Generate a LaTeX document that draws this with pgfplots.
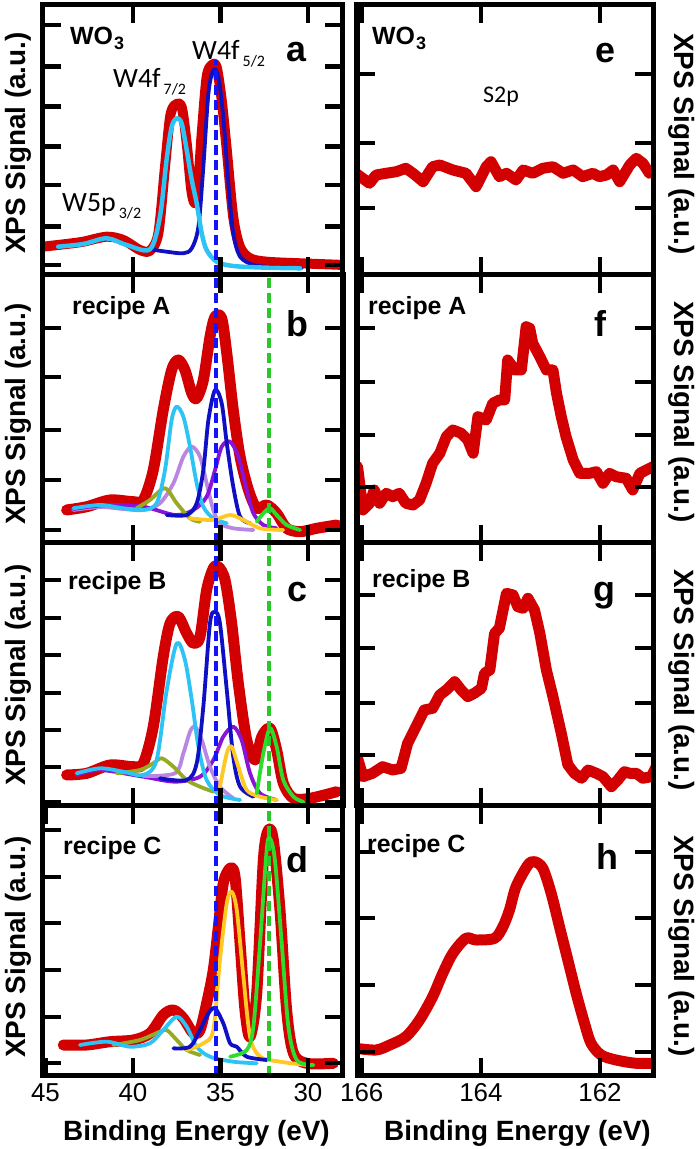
\documentclass[border=0pt]{standalone}
\usepackage{pgfplots}
\pgfplotsset{compat=1.18}
\usepackage{fontspec}
\setmainfont{Liberation Sans}
\newfontfamily\calfont{Carlito}
\definecolor{xred}{RGB}{210,0,0}
\definecolor{xcyan}{RGB}{45,195,245}
\definecolor{xblue}{RGB}{15,15,195}
\definecolor{xlav}{RGB}{185,135,225}
\definecolor{xpurp}{RGB}{135,20,215}
\definecolor{xolive}{RGB}{150,170,35}
\definecolor{xyel}{RGB}{255,200,35}
\definecolor{xgreen}{RGB}{45,220,45}
\definecolor{dblue}{RGB}{20,20,250}
\definecolor{dgreen}{RGB}{40,200,40}
\newcommand\lab{\fontsize{28}{30}\selectfont\bfseries}
\newcommand\letf{\fontsize{36}{36}\selectfont\bfseries}
\newcommand\recf{\fontsize{25}{28}\selectfont\bfseries}
\newcommand\peakf{\calfont\fontsize{28}{30}\selectfont}
\newcommand\subf{\fontsize{16}{16}\selectfont}
\newcommand\wothree{WO\hspace{1bp}\raisebox{-5bp}{\fontsize{18}{18}\selectfont 3}}
\pgfplotsset{
  panel/.style={scale only axis, anchor=south west, ymin=0, yticklabels={}, xticklabels={},
    tick align=inside, tick pos=both, major tick length=18bp,
    tick style={line width=4.5bp, black}, axis line style={line width=5bp},
    axis on top, clip=true,
    /pgf/number format/assume math mode=true,
    xticklabel style={font=\fontsize{26}{26}\selectfont, yshift=-4bp}},
  leftp/.style={panel, width=300bp, x dir=reverse, xmin=28, xmax=45.14, xtick={30,35,40}},
  rightp/.style={panel, width=296bp, x dir=reverse, xmin=161.11, xmax=166.08, xtick={162,164,166}},
  redl/.style={line width=11bp, color=xred, line cap=round, line join=round, mark=none},
  comp/.style={line width=3.8bp, mark=none, smooth, line cap=round, line join=round},
  bdash/.style={line width=4bp, color=dblue, dash pattern=on 10bp off 5bp, mark=none},
  gdash/.style={line width=4bp, color=dgreen, dash pattern=on 10bp off 5bp, mark=none},
}
\begin{document}
\begin{tikzpicture}
\path (0,0) rectangle (697bp,1149bp);

% ---------- panel a ----------
\begin{axis}[leftp, at={(43bp,874bp)}, height=270bp, ymax=270, ytick={10,48.3,90,128.3,168.3,208.3,250}]
\addplot[redl, smooth, line width=10bp] coordinates {(45.3,28) (43.8,31) (42.84,33.3) (41.5,38.3) (40.55,35) (39.6,25) (39.03,24.3) (38.55,41.7) (38.17,108) (37.88,158) (37.6,170) (37.22,168.3) (36.93,131.7) (36.64,81.7) (36.36,75) (36.07,141.7) (35.79,198) (35.5,210) (35.22,208) (34.93,175) (34.64,125) (34.27,58) (33.88,28) (33.31,16.7) (32.36,13.3) (30.45,11.7) (27.9,10)};
\addplot[comp, color=xblue] coordinates {(39.03,25.7) (38.08,23.3) (37.12,21.7) (36.64,26.7) (36.26,48.3) (35.98,108) (35.69,181.7) (35.4,205) (35.12,198) (34.84,158) (34.55,91.7) (34.27,41.7) (33.88,18.3) (33.12,10) (32.36,8.3) (30.36,6.7)};
\addplot[comp, color=xcyan, line width=4.5bp] coordinates {(44.27,28.3) (42.84,31) (41.5,36.7) (40.36,30) (39.03,25.7) (38.46,58) (38.08,115) (37.79,148) (37.5,156.7) (37.22,151.7) (36.93,125) (36.64,95) (36.36,71.7) (36.07,41.7) (35.79,25) (35.22,13.3) (34.27,9) (32.36,7.3) (30.45,6.7)};
\addplot[bdash] coordinates {(35.25,0) (35.25,215)};
\end{axis}

% ---------- panel b ----------
\begin{axis}[leftp, at={(43bp,606bp)}, height=268bp, ymax=268, ytick={13,63,113,166,215}]
\addplot[redl, smooth] coordinates {(43.79,33) (42.64,36.3) (41.31,43) (39.98,41.3) (39.41,43) (38.84,73) (38.27,133) (37.79,173) (37.41,183) (37.03,173) (36.64,149.7) (36.36,144.7) (35.98,163) (35.6,206) (35.31,226.3) (34.93,224.7) (34.64,189.7) (34.27,133) (33.88,86.3) (33.4,53) (32.93,34.7) (32.36,38) (31.79,29.7) (31.22,14.7) (30.45,11.3) (29.5,14.7) (28.36,18)};
\addplot[comp, color=xlav] coordinates {(43.41,33) (41.88,36) (40.55,34) (39.41,33) (38.46,39.7) (37.69,59.7) (37.12,86.3) (36.64,96.3) (36.17,86.3) (35.79,59.7) (35.41,33) (35.03,19.7) (34.27,14.7) (33.12,13)};
\addplot[comp, color=xpurp] coordinates {(43.41,34) (41.5,38) (39.41,36.3) (37.6,28) (36.55,33) (35.79,46.3) (35.31,73) (34.93,96.3) (34.45,101.3) (33.98,86.3) (33.5,53) (33.12,29.7) (32.55,18) (31.79,14.7)};
\addplot[comp, color=xolive] coordinates {(39.8,34.7) (39.03,43) (38.17,54.7) (37.5,39.7) (36.74,24.7) (36.17,21.3)};
\addplot[comp, color=xcyan] coordinates {(43.41,34.7) (41.88,38) (40.55,34.7) (39.41,33) (38.65,39.7) (38.17,73) (37.79,123) (37.5,136.3) (37.12,126.3) (36.74,96.3) (36.36,59.7) (35.98,36.3) (35.41,24.7) (34.64,19.7)};
\addplot[comp, color=xblue] coordinates {(38.07,28) (36.93,28) (36.36,39.7) (35.98,73) (35.69,123) (35.31,153) (34.93,139.7) (34.64,99.7) (34.27,56.3) (33.88,26.3) (33.31,19.7)};
\addplot[comp, color=xyel] coordinates {(36.74,24.7) (35.41,23) (34.45,28) (33.69,23) (32.74,14.7) (31.41,13)};
\addplot[comp, color=xgreen] coordinates {(32.93,21.3) (32.55,29.7) (32.17,34.7) (31.79,28) (31.22,18) (30.45,13)};
\addplot[bdash] coordinates {(35.25,0) (35.25,268)};
\addplot[gdash] coordinates {(32.2,0) (32.2,268)};
\end{axis}

% ---------- panel c ----------
\begin{axis}[leftp, at={(43bp,343bp)}, height=263bp, ymax=263, ytick={4,39,76,113,151,188,226}]
\addplot[redl, smooth] coordinates {(43.79,31) (42.64,32.7) (41.31,41) (39.98,39.3) (39.41,42.7) (38.84,79.3) (38.27,149.3) (37.88,182.7) (37.41,189.3) (36.93,172.7) (36.55,162.7) (36.17,169.3) (35.79,216) (35.41,237.7) (35.12,239.3) (34.74,226) (34.36,182.7) (33.98,122.7) (33.5,66) (33.02,46) (32.64,69.3) (32.17,77.7) (31.79,56) (31.41,22.7) (30.83,7.7) (29.88,7.7) (28.36,14.3)};
\addplot[comp, color=xpurp] coordinates {(43.22,31) (41.88,36) (39.41,29.3) (37.6,24.3) (36.17,29.3) (35.41,46) (34.84,69.3) (34.27,79.3) (33.79,66) (33.31,32.7) (32.74,12.7) (31.79,6)};
\addplot[comp, color=xlav] coordinates {(39.41,30) (37.6,32.7) (37.12,52.7) (36.74,74.3) (36.45,79.3) (36.07,66) (35.6,39.3) (35.03,19.3) (34.27,7.7)};
\addplot[comp, color=xolive] coordinates {(40.93,32.7) (39.6,36) (38.84,42.7) (38.36,47.7) (37.69,39.3) (36.93,26) (36.17,19.3) (35.41,14.3)};
\addplot[comp, color=xcyan] coordinates {(43.22,32.7) (41.88,37.7) (40.55,34.3) (39.41,31) (38.65,46) (38.07,116) (37.5,162.7) (37.03,146) (36.64,106) (36.26,59.3) (35.79,26) (35.03,11) (33.88,6)};
\addplot[comp, color=xblue] coordinates {(38.46,27.7) (36.93,26) (36.36,42.7) (35.98,99.3) (35.6,182.7) (35.31,194.3) (35.03,182.7) (34.64,116) (34.27,49.3) (33.88,19.3) (33.12,9.3)};
\addplot[comp, color=xyel] coordinates {(35.03,19.3) (34.64,52.7) (34.36,59.3) (33.98,39.3) (33.5,16) (32.74,9.3) (31.79,6)};
\addplot[comp, color=xgreen] coordinates {(32.93,12.7) (32.55,52.7) (32.17,77.7) (31.79,59.3) (31.41,26) (30.83,9.3) (30.26,4)};
\addplot[bdash] coordinates {(35.25,0) (35.25,263)};
\addplot[gdash] coordinates {(32.2,0) (32.2,263)};
\end{axis}

% ---------- panel d ----------
\begin{axis}[leftp, at={(43bp,73bp)}, height=270bp, ymax=270, ytick={13,59,106,153,199,246},
  xtick={30,35,40,45}, xticklabels={30,35,40,45}]
\addplot[redl, smooth] coordinates {(43.98,31) (42.64,31) (41.31,34.3) (39.98,36) (39.03,42.7) (38.27,61) (37.69,66) (37.12,57.7) (36.55,42.7) (36.17,46) (35.79,72.7) (35.41,106) (35.12,149.3) (34.84,192.7) (34.45,207.7) (34.17,199.3) (33.88,132.7) (33.6,66) (33.31,39.3) (32.93,82.7) (32.55,216) (32.26,246) (31.98,236) (31.6,166) (31.22,66) (30.83,22.7) (30.07,12.7) (28.55,12.7)};
\addplot[comp, color=xolive] coordinates {(41.12,31) (39.6,36) (38.46,44.3) (38.07,46) (37.5,36) (36.93,26) (36.17,21)};
\addplot[comp, color=xcyan] coordinates {(43.03,31) (41.5,34.3) (40.17,29.3) (39.03,32.7) (38.27,46) (37.5,59.3) (36.93,49.3) (36.36,29.3) (35.6,19.3) (34.27,14.3) (32.93,12.7)};
\addplot[comp, color=xyel] coordinates {(36.93,26) (35.98,32.7) (35.41,46) (35.03,116) (34.64,172.7) (34.36,184.3) (34.07,166) (33.69,99.3) (33.31,39.3) (32.74,19.3) (31.6,14.3) (30.07,11)};
\addplot[comp, color=xblue] coordinates {(37.69,27.7) (36.74,29.3) (36.17,46) (35.69,62.7) (35.31,67.7) (34.84,52.7) (34.45,32.7) (34.07,29.3) (33.5,19.3) (32.36,16)};
\addplot[comp, color=xgreen] coordinates {(34.45,19.3) (33.5,26) (33.12,49.3) (32.74,132.7) (32.36,226) (32.17,237.7) (31.89,216) (31.5,132.7) (31.12,49.3) (30.64,16) (29.69,11)};
\addplot[bdash] coordinates {(35.25,0) (35.25,270)};
\addplot[gdash] coordinates {(32.2,0) (32.2,270)};
\end{axis}

% ---------- panel e ----------
\begin{axis}[rightp, at={(357bp,874bp)}, height=270bp, ymax=270, ytick={67,132,201}]
\addplot[redl] coordinates {(166.1,101.7) (165.87,91.7) (165.76,100) (165.59,101.7) (165.42,103.3) (165.26,106.7) (165.14,101.7) (164.97,93.3) (164.81,108.3) (164.69,110) (164.47,105) (164.25,101.7) (164.08,88.3) (163.91,108.3) (163.83,113.3) (163.69,98.3) (163.57,101.7) (163.41,95) (163.29,105) (163.13,101.7) (162.96,106.7) (162.79,108.3) (162.62,101.7) (162.45,105) (162.29,98.3) (162.12,101.7) (162.01,98.3) (161.89,100) (161.78,105) (161.67,93.3) (161.5,110) (161.39,116.7) (161.28,111.7) (161.17,101.7) (161.0,106.7)};
\end{axis}

% ---------- panel f ----------
\begin{axis}[rightp, at={(357bp,606bp)}, height=268bp, ymax=268, ytick={56,108,161,215}]
\addplot[redl] coordinates {(166.07,76.3) (165.98,33) (165.87,39.7) (165.79,53) (165.7,39.7) (165.59,49.7) (165.48,46.3) (165.37,49.7) (165.26,39.7) (165.14,38) (165.03,43) (164.92,59.7) (164.81,79.7) (164.69,89.7) (164.58,106.3) (164.47,113) (164.33,109.7) (164.22,103) (164.13,89.7) (164.05,126.3) (163.91,123) (163.8,139.7) (163.69,143) (163.6,143) (163.55,183) (163.43,173) (163.32,173) (163.24,216.3) (163.18,214.7) (163.13,199.7) (163.01,186.3) (162.9,173) (162.79,173) (162.73,149.7) (162.65,126.3) (162.57,106.3) (162.45,83) (162.34,69.7) (162.17,69.7) (162.06,71.3) (161.95,59.7) (161.84,69.7) (161.73,66.3) (161.56,64.7) (161.45,53) (161.33,69.7) (161.22,73) (161.11,76.3) (161.0,76.3)};
\end{axis}

% ---------- panel g ----------
\begin{axis}[rightp, at={(357bp,343bp)}, height=263bp, ymax=263, ytick={51,103,158,211}]
\addplot[redl] coordinates {(166.07,47.7) (165.98,29.3) (165.82,32.7) (165.65,39.3) (165.48,36) (165.34,37.7) (165.23,62.7) (165.09,79.3) (164.95,96) (164.81,97.7) (164.69,111) (164.58,116) (164.44,124.3) (164.33,116) (164.22,109.3) (164.11,112.7) (163.99,117.7) (163.94,132.7) (163.85,136) (163.77,172.7) (163.69,177.7) (163.57,212.7) (163.46,211) (163.38,199.3) (163.29,197.7) (163.21,207.7) (163.1,196) (163.01,172.7) (162.9,136) (162.79,109.3) (162.65,72.7) (162.54,41.3) (162.43,32.7) (162.31,27.7) (162.2,36) (162.06,32.7) (161.95,29.3) (161.81,19.3) (161.7,26) (161.59,34.3) (161.5,32.7) (161.39,32.7) (161.28,27.7) (161.14,29.3) (161.0,46)};
\end{axis}

% ---------- panel h ----------
\begin{axis}[rightp, at={(357bp,73bp)}, height=270bp, ymax=270, ytick={24,91,158,224},
  xticklabels={162,164,166}]
\addplot[redl, smooth] coordinates {(166.1,27.7) (165.76,26) (165.53,31) (165.26,39.3) (165.03,56) (164.81,79.3) (164.64,102.7) (164.47,122.7) (164.25,137.7) (164.08,136) (163.77,137.7) (163.63,149.3) (163.52,166) (163.41,189.3) (163.21,211) (163.1,214.3) (162.96,207.7) (162.82,182.7) (162.68,149.3) (162.54,116) (162.4,82.7) (162.26,52.7) (162.15,32.7) (161.98,21) (161.73,16) (161.39,12.7) (161.0,12.7)};
\end{axis}

% ---------- texts ----------
\foreach \yy in {1006,735,474,202} {\node[rotate=90, inner sep=0] at (18bp,\yy bp) {\lab XPS Signal (a.u.)};}
\foreach \yy in {1005,737,469,203} {\node[rotate=-90, inner sep=0] at (682bp,\yy bp) {\lab XPS Signal (a.u.)};}
\node[anchor=base, inner sep=0] at (196.5bp,9bp) {\lab Binding Energy (eV)};
\node[anchor=base, inner sep=0] at (517.5bp,9bp) {\lab Binding Energy (eV)};
\node[anchor=base west, inner sep=0] at (70bp,1104bp) {\recf\wothree};
\node[anchor=base west, inner sep=0] at (372bp,1104bp) {\recf\wothree};
\node[anchor=base west, inner sep=0] at (72bp,834bp) {\recf recipe A};
\node[anchor=base west, inner sep=0] at (368bp,834bp) {\recf recipe A};
\node[anchor=base west, inner sep=0] at (68bp,559bp) {\recf recipe B};
\node[anchor=base west, inner sep=0] at (372bp,561bp) {\recf recipe B};
\node[anchor=base west, inner sep=0] at (63bp,294bp) {\recf recipe C};
\node[anchor=base west, inner sep=0] at (367bp,296bp) {\recf recipe C};
\node[anchor=base, inner sep=0] at (296bp,1087bp) {\letf a};
\node[anchor=base, inner sep=0] at (297bp,812bp) {\letf b};
\node[anchor=base, inner sep=0] at (297bp,547bp) {\letf c};
\node[anchor=base, inner sep=0] at (297bp,276bp) {\letf d};
\node[anchor=base, inner sep=0] at (605bp,1086bp) {\letf e};
\node[anchor=base, inner sep=0] at (600bp,812bp) {\letf f};
\node[anchor=base, inner sep=0] at (604bp,547bp) {\letf g};
\node[anchor=base, inner sep=0] at (607bp,279bp) {\letf h};
\node[anchor=base west, inner sep=0] at (113bp,1061bp) {\peakf W4f\hspace{3bp}\raisebox{-7bp}{\subf 7/2}};
\node[anchor=base west, inner sep=0] at (192bp,1089bp) {\peakf W4f\hspace{3bp}\raisebox{-7bp}{\subf 5/2}};
\node[anchor=base west, inner sep=0] at (62bp,937bp) {\peakf W5p\hspace{3bp}\raisebox{-7bp}{\subf 3/2}};
\node[anchor=base, inner sep=0] at (501bp,1046bp) {\calfont\fontsize{24}{26}\selectfont S2p};
\end{tikzpicture}
\end{document}
